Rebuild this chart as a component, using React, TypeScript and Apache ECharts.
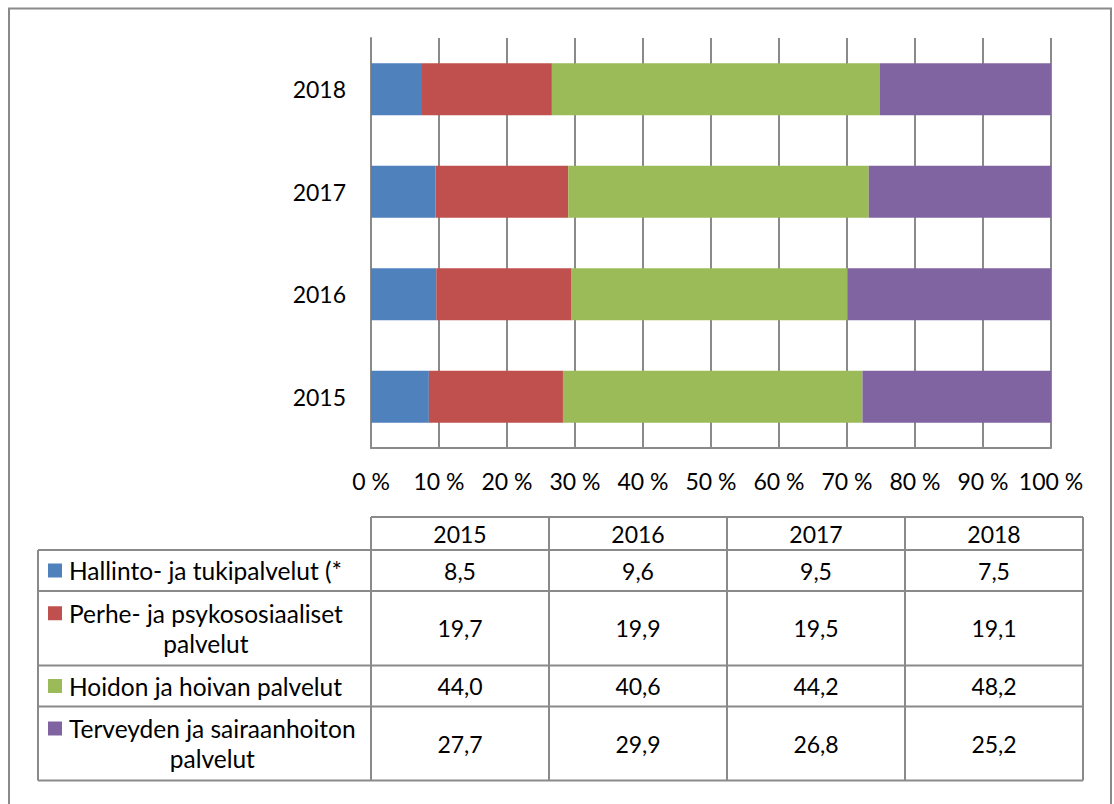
import React, { useEffect, useRef } from "react";
import * as echarts from "echarts";

const years = ["2015", "2016", "2017", "2018"];
const seriesNames = [
  "Hallinto- ja tukipalvelut (*",
  "Perhe- ja psykososiaaliset palvelut",
  "Hoidon ja hoivan palvelut",
  "Terveyden ja sairaanhoiton palvelut",
];
const legendLines = [
  ["Hallinto- ja tukipalvelut (*"],
  ["Perhe- ja psykososiaaliset", "palvelut"],
  ["Hoidon ja hoivan palvelut"],
  ["Terveyden ja sairaanhoiton", "palvelut"],
];
const hallinto = [8.5, 9.6, 9.5, 7.5];
const perhe = [19.7, 19.9, 19.5, 19.1];
const hoidon = [44.0, 40.6, 44.2, 48.2];
const terveys = [27.7, 29.9, 26.8, 25.2];
const xTicks = [0, 10, 20, 30, 40, 50, 60, 70, 80, 90, 100];

const colors = ["#4F81BD", "#C0504D", "#9BBB59", "#8064A2"];
const FONT = "Lato";
const FS = 23;
const LFS = 24.5;
const GRAY = "#8a8a8a";

export default function App() {
  const ref = useRef<HTMLDivElement>(null);
  useEffect(() => {
    document.body.style.margin = "0";
    const chart = echarts.init(ref.current!, null, { renderer: "svg" });
    const all = [hallinto, perhe, hoidon, terveys];
    const totals = years.map((_, i) => all.reduce((s, a) => s + a[i], 0));

    const canvas = document.createElement("canvas");
    const ctx = canvas.getContext("2d")!;
    ctx.font = `${LFS}px ${FONT}`;

    const colX = [371, 549, 727, 905, 1083];
    const rowY = [550, 591, 665.5, 706.5, 780.5];
    const headTop = 517;
    const legLeft = 38;
    const lineStyle = { stroke: GRAY, lineWidth: 2 };
    const g: any[] = [];
    g.push({
      type: "rect",
      shape: { x: 9, y: 8.5, width: 1102, height: 830 },
      style: { fill: "none", stroke: GRAY, lineWidth: 2 },
      silent: true,
    });
    g.push({ type: "line", shape: { x1: colX[0], y1: headTop, x2: colX[4], y2: headTop }, style: lineStyle });
    colX.forEach((x) =>
      g.push({ type: "line", shape: { x1: x, y1: headTop, x2: x, y2: rowY[4] }, style: lineStyle })
    );
    g.push({ type: "line", shape: { x1: legLeft, y1: rowY[0], x2: legLeft, y2: rowY[4] }, style: lineStyle });
    rowY.forEach((y) =>
      g.push({ type: "line", shape: { x1: legLeft, y1: y, x2: colX[4], y2: y }, style: lineStyle })
    );
    const txt = (text: string, x: number, y: number, size = FS, align = "center") => ({
      type: "text",
      x,
      y,
      style: {
        text,
        fill: "#000",
        fontSize: size,
        fontFamily: FONT,
        align,
        textAlign: align,
        verticalAlign: "middle",
        textVerticalAlign: "middle",
      },
    });
    years.forEach((yr, j) => {
      g.push(txt(yr, (colX[j] + colX[j + 1]) / 2, (headTop + rowY[0]) / 2));
    });
    all.forEach((arr, i) => {
      const cy = (rowY[i] + rowY[i + 1]) / 2;
      arr.forEach((v, j) => {
        g.push(txt(v.toFixed(1).replace(".", ","), (colX[j] + colX[j + 1]) / 2, cy));
      });
      const lines = legendLines[i];
      const lh = 30;
      const textX = 69;
      const w = ctx.measureText(lines[0]).width;
      const cx = textX + w / 2;
      const y0 = cy - ((lines.length - 1) * lh) / 2;
      g.push({
        type: "rect",
        shape: { x: 48, y: y0 - 7, width: 14, height: 14 },
        style: { fill: colors[i] },
      });
      lines.forEach((ln, k) => {
        g.push(txt(ln, cx, y0 + k * lh, LFS));
      });
    });

    chart.setOption({
      animation: false,
      color: colors,
      grid: { left: 371, right: 63, top: 38, bottom: 356, containLabel: false },
      xAxis: {
        type: "value",
        min: 0,
        max: 100,
        interval: 10,
        axisLine: { show: true, lineStyle: { color: GRAY, width: 2 } },
        axisTick: { show: false },
        splitLine: { show: true, lineStyle: { color: GRAY, width: 2 } },
        axisLabel: {
          formatter: (v: number) => (xTicks.includes(v) ? `${v} %` : ""),
          fontSize: FS,
          fontFamily: FONT,
          color: "#000",
          margin: 21,
        },
      },
      yAxis: {
        type: "category",
        data: years,
        axisLine: { show: true, lineStyle: { color: GRAY, width: 2 } },
        axisTick: { show: false },
        splitLine: { show: false },
        axisLabel: { fontSize: FS, fontFamily: FONT, color: "#000", margin: 25 },
      },
      series: all.map((arr, i) => ({
        name: seriesNames[i],
        type: "bar",
        stack: "total",
        barWidth: 52,
        data: arr.map((v, j) => (v / totals[j]) * 100),
        itemStyle: { color: colors[i] },
      })),
      graphic: g,
    });
    return () => chart.dispose();
  }, []);
  return <div ref={ref} style={{ width: 1114, height: 804 }} />;
}
